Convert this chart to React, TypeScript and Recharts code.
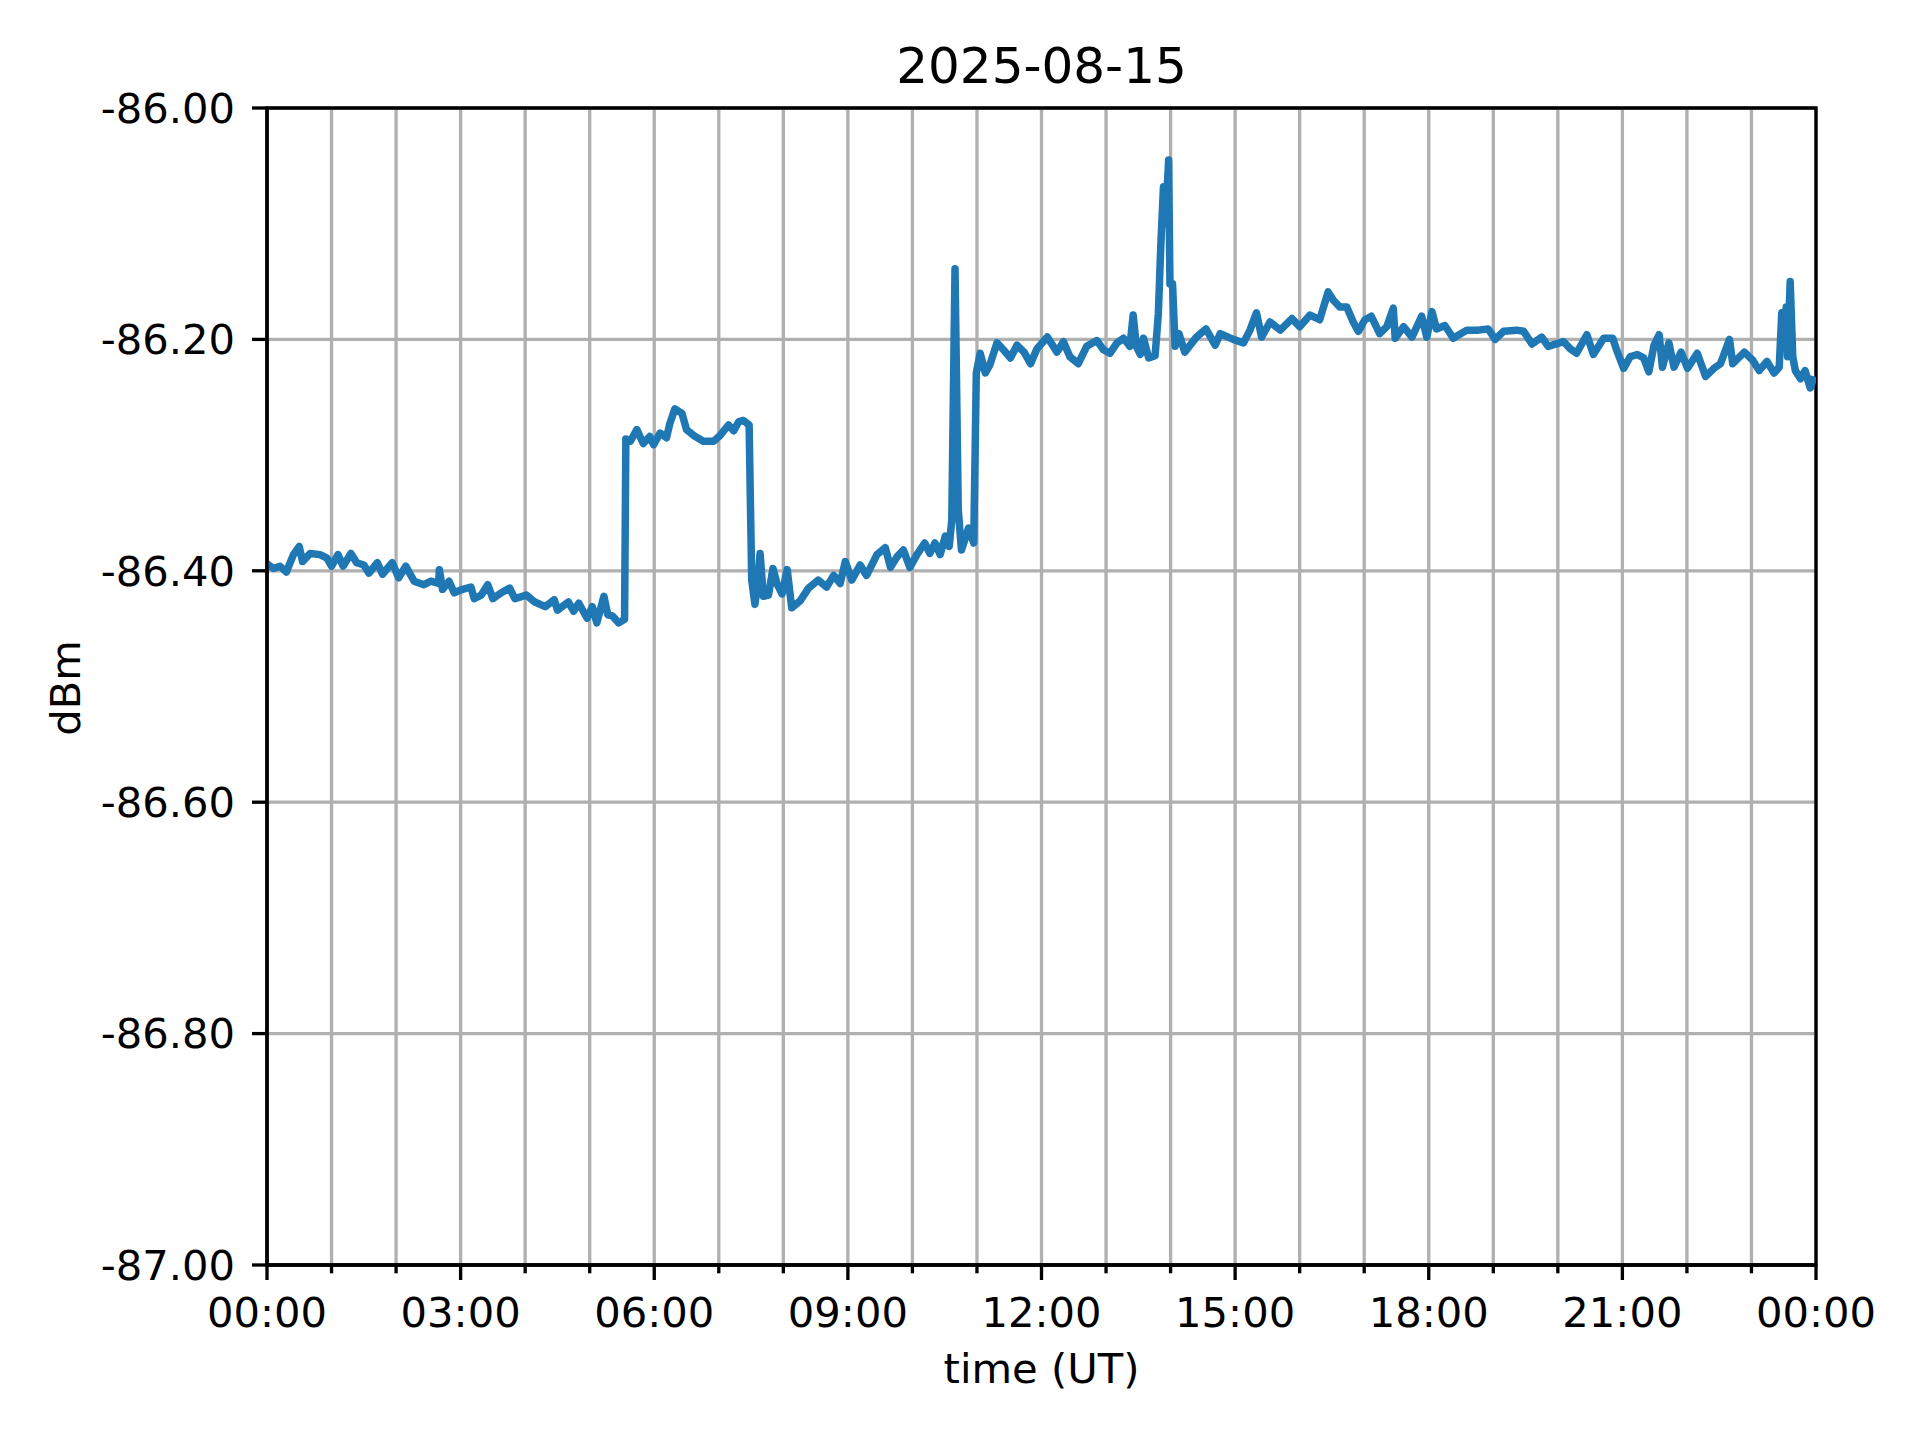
import React from 'react';
import { LineChart, Line, XAxis, YAxis, CartesianGrid, ReferenceArea } from 'recharts';

// hours since 00:00 UT
const timeHours = [
    0.00, 0.10, 0.20, 0.30, 0.41, 0.50, 0.55, 0.67, 0.82, 0.93,
    1.00, 1.10, 1.18, 1.30, 1.39, 1.50, 1.58, 1.71, 1.79, 1.94,
    2.04, 2.15, 2.28, 2.43, 2.54, 2.66, 2.67, 2.72, 2.82, 2.90,
    3.03, 3.16, 3.21, 3.32, 3.42, 3.50, 3.63, 3.76, 3.84, 4.02,
    4.15, 4.31, 4.45, 4.50, 4.67, 4.75, 4.83, 4.96, 5.04, 5.11,
    5.22, 5.28, 5.35, 5.45, 5.54, 5.56, 5.63, 5.73, 5.83, 5.93,
    5.99, 6.09, 6.19, 6.24, 6.32, 6.43, 6.50, 6.61, 6.76, 6.92,
    7.02, 7.15, 7.23, 7.31, 7.38, 7.47, 7.51, 7.56, 7.60, 7.64,
    7.69, 7.77, 7.84, 7.90, 7.98, 8.06, 8.13, 8.26, 8.39, 8.54,
    8.67, 8.78, 8.88, 8.96, 9.06, 9.19, 9.29, 9.45, 9.58, 9.66,
    9.76, 9.86, 9.96, 10.07, 10.19, 10.27, 10.35, 10.43, 10.51, 10.57,
    10.61, 10.66, 10.71, 10.76, 10.87, 10.95, 10.99, 11.05, 11.13, 11.20,
    11.31, 11.41, 11.52, 11.62, 11.73, 11.83, 11.93, 12.09, 12.24, 12.34,
    12.44, 12.57, 12.70, 12.86, 12.96, 13.06, 13.17, 13.27, 13.37, 13.42,
    13.47, 13.53, 13.58, 13.66, 13.76, 13.81, 13.85, 13.89, 13.92, 13.97,
    13.99, 14.03, 14.07, 14.13, 14.22, 14.40, 14.55, 14.69, 14.77, 14.97,
    15.13, 15.23, 15.33, 15.41, 15.54, 15.70, 15.88, 16.00, 16.16, 16.31,
    16.44, 16.52, 16.62, 16.73, 16.83, 16.91, 17.01, 17.11, 17.24, 17.35,
    17.45, 17.48, 17.61, 17.74, 17.89, 17.97, 18.05, 18.12, 18.25, 18.38,
    18.59, 18.77, 18.92, 19.03, 19.16, 19.36, 19.47, 19.60, 19.75, 19.85,
    20.09, 20.19, 20.29, 20.45, 20.55, 20.71, 20.85, 20.91, 21.02, 21.12,
    21.23, 21.33, 21.41, 21.49, 21.57, 21.62, 21.72, 21.80, 21.91, 22.01,
    22.16, 22.29, 22.42, 22.52, 22.66, 22.71, 22.89, 23.02, 23.12, 23.24,
    23.35, 23.43, 23.47, 23.50, 23.54, 23.56, 23.60, 23.64, 23.68, 23.76,
    23.83, 23.91, 23.97
];

const levelDbm = [
    -86.394, -86.398, -86.396, -86.401, -86.386, -86.379, -86.392, -86.385, -86.386, -86.389,
    -86.396, -86.386, -86.396, -86.385, -86.393, -86.395, -86.402, -86.393, -86.403, -86.393,
    -86.406, -86.396, -86.409, -86.412, -86.409, -86.411, -86.399, -86.416, -86.409, -86.419,
    -86.416, -86.414, -86.424, -86.421, -86.412, -86.424, -86.419, -86.415, -86.424, -86.421,
    -86.427, -86.431, -86.425, -86.434, -86.427, -86.435, -86.428, -86.441, -86.431, -86.445,
    -86.422, -86.438, -86.439, -86.445, -86.442, -86.286, -86.288, -86.278, -86.290, -86.284,
    -86.291, -86.281, -86.285, -86.273, -86.260, -86.264, -86.278, -86.283, -86.288, -86.288,
    -86.283, -86.274, -86.279, -86.271, -86.270, -86.274, -86.408, -86.429, -86.412, -86.385,
    -86.422, -86.421, -86.398, -86.411, -86.420, -86.399, -86.432, -86.426, -86.415, -86.408,
    -86.414, -86.404, -86.411, -86.392, -86.408, -86.395, -86.404, -86.386, -86.380, -86.397,
    -86.388, -86.382, -86.397, -86.386, -86.376, -86.385, -86.376, -86.386, -86.370, -86.379,
    -86.356, -86.139, -86.347, -86.382, -86.363, -86.376, -86.229, -86.212, -86.229, -86.222,
    -86.203, -86.209, -86.216, -86.205, -86.211, -86.221, -86.208, -86.198, -86.211, -86.202,
    -86.215, -86.221, -86.206, -86.201, -86.209, -86.212, -86.203, -86.199, -86.206, -86.179,
    -86.206, -86.213, -86.199, -86.216, -86.214, -86.178, -86.117, -86.068, -86.100, -86.045,
    -86.152, -86.152, -86.206, -86.195, -86.211, -86.198, -86.191, -86.205, -86.195, -86.200,
    -86.203, -86.192, -86.177, -86.198, -86.185, -86.192, -86.182, -86.189, -86.179, -86.183,
    -86.159, -86.166, -86.172, -86.172, -86.185, -86.193, -86.183, -86.180, -86.195, -86.189,
    -86.173, -86.199, -86.189, -86.198, -86.180, -86.198, -86.176, -86.191, -86.188, -86.199,
    -86.192, -86.192, -86.191, -86.200, -86.193, -86.192, -86.193, -86.204, -86.198, -86.206,
    -86.202, -86.208, -86.212, -86.196, -86.213, -86.199, -86.199, -86.209, -86.225, -86.215,
    -86.213, -86.216, -86.228, -86.205, -86.196, -86.224, -86.203, -86.224, -86.211, -86.225,
    -86.212, -86.232, -86.225, -86.221, -86.200, -86.221, -86.211, -86.218, -86.227, -86.219,
    -86.229, -86.224, -86.177, -86.189, -86.172, -86.215, -86.150, -86.215, -86.227, -86.234,
    -86.227, -86.242, -86.232
];

const hourTicks = [0, 1, 2, 3, 4, 5, 6, 7, 8, 9, 10, 11, 12, 13, 14, 15, 16, 17, 18, 19, 20, 21, 22, 23, 24];
const dbmTicks = [-87, -86.8, -86.6, -86.4, -86.2, -86];

const FONT = '"DejaVu Sans", sans-serif';
const TICK_FONT = 41.67;
const LW = 3.33;
const MAJOR = 15;
const MINOR = 8.3;
const PAD = 17;

const hhmm = (h: number) => {
    const v = h % 24;
    return (v < 10 ? '0' : '') + v + ':00';
};

const TimeTick = (props: any) => {
    const { x, y, payload } = props;
    const h = payload.value;
    const major = h % 3 === 0;
    const axisY = y - MAJOR - PAD;
    return (
        <g>
            <line x1={x} x2={x} y1={axisY} y2={axisY + (major ? MAJOR : MINOR)} stroke="#000" strokeWidth={LW} />
            {major && (
                <text x={x} y={axisY + MAJOR + PAD + 30} textAnchor="middle" fill="#000"
                    fontSize={TICK_FONT} fontFamily={FONT}>{hhmm(h)}</text>
            )}
        </g>
    );
};

class App extends React.Component {
    render() {
        const data = timeHours.map((t, i) => ({ t: t, dbm: levelDbm[i] }));

        return (
            <div style={{ position: 'absolute', left: 0, top: 0, width: 1920, height: 1440, background: '#fff' }}>
                <LineChart width={1920} height={1440} data={data}
                    margin={{ top: 108, right: 104, bottom: 0, left: 0 }}>
                    <CartesianGrid stroke="#b0b0b0" strokeWidth={LW} />
                    <XAxis dataKey="t" type="number" domain={[0, 24]} ticks={hourTicks} interval={0}
                        height={175} tickSize={MAJOR} tickMargin={PAD} tickLine={false}
                        axisLine={{ stroke: '#000', strokeWidth: LW }} tick={<TimeTick />} allowDataOverflow />
                    <YAxis type="number" domain={[-87, -86]} ticks={dbmTicks} interval={0} width={267}
                        tickSize={MAJOR} tickMargin={PAD} allowDataOverflow
                        tickFormatter={(v: number) => v.toFixed(2)}
                        tick={{ fill: '#000', fontSize: TICK_FONT, fontFamily: FONT }}
                        tickLine={{ stroke: '#000', strokeWidth: LW }}
                        axisLine={{ stroke: '#000', strokeWidth: LW }} />
                    <Line type="linear" dataKey="dbm" stroke="#1f77b4" strokeWidth={7.5} dot={false}
                        strokeLinejoin="round" isAnimationActive={false} />
                    <ReferenceArea x1={0} x2={24} y1={-87} y2={-86} fill="none" fillOpacity={0}
                        stroke="#000" strokeWidth={LW} strokeOpacity={1} />
                </LineChart>
                <svg width={1920} height={1440} style={{ position: 'absolute', left: 0, top: 0, pointerEvents: 'none' }}>
                    <text x={1041.5} y={83} textAnchor="middle" fontSize={50} fontFamily={FONT} fill="#000">2025-08-15</text>
                    <text x={1041.5} y={1383} textAnchor="middle" fontSize={TICK_FONT} fontFamily={FONT} fill="#000">time (UT)</text>
                    <text x={80} y={688} textAnchor="middle" fontSize={TICK_FONT} fontFamily={FONT} fill="#000"
                        transform="rotate(-90 80 688)">dBm</text>
                </svg>
            </div>
        );
    }
}

export default App
